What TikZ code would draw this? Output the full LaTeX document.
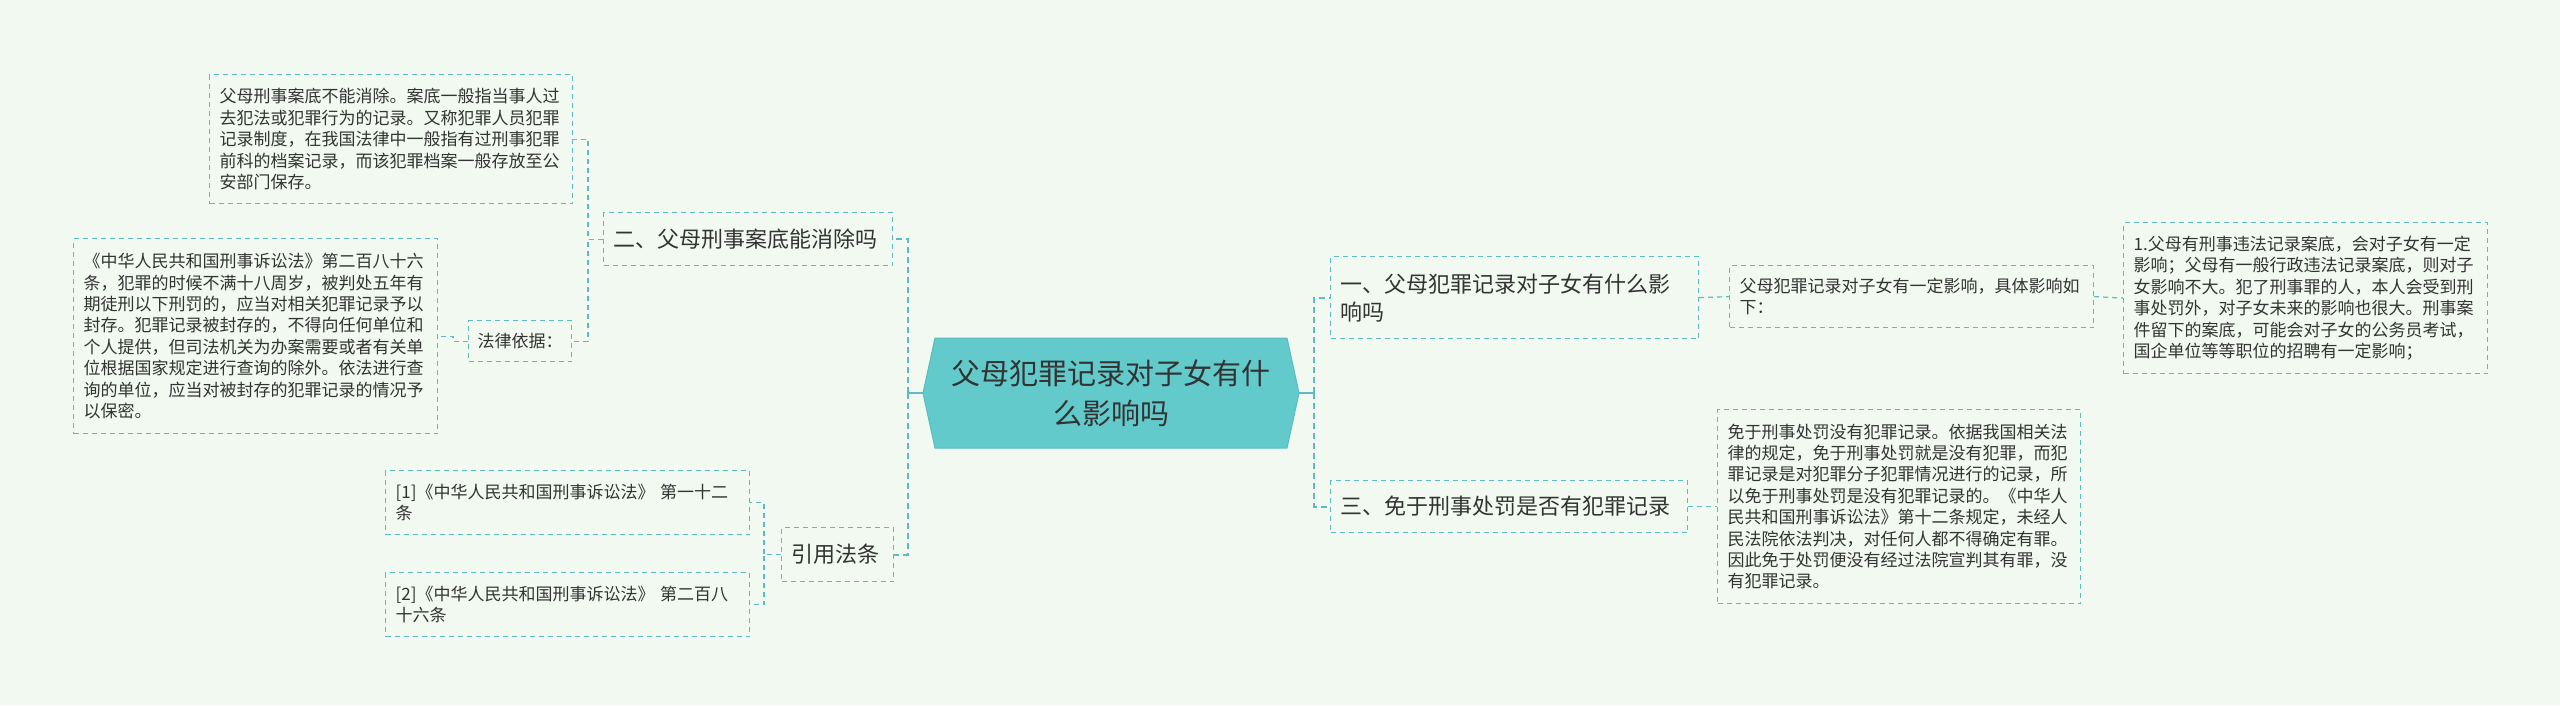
\documentclass[tikz,border=0pt]{standalone}
\usepackage{fontspec}
\setmainfont{Noto Sans CJK SC}
\definecolor{bgmint}{HTML}{F1F9F0}
\definecolor{lineteal}{HTML}{5FBBC2}
\definecolor{rootfill}{HTML}{63CACB}
\definecolor{rootline}{HTML}{58BDBF}
\definecolor{inkgray}{HTML}{333333}
\begin{document}
\begin{tikzpicture}[x=1pt, y=-1pt, line cap=butt,
  box/.style={draw=lineteal, line width=1.2pt, dash pattern=on 5pt off 4pt,
    text=inkgray, align=left, anchor=north west, inner xsep=10pt, inner ysep=0pt,
    font=\fontsize{17}{21.4}\selectfont},
  topic/.style={box, font=\fontsize{22}{28}\selectfont},
  link/.style={draw=lineteal, line width=1.2pt, dash pattern=on 5pt off 4pt},
  bus/.style={draw=lineteal, line width=2pt, dash pattern=on 6pt off 4pt},
  stub/.style={draw=lineteal, line width=2pt}]
  % Page and background.
  \fill[bgmint] (0,0) rectangle (2560,705);
  \useasboundingbox (0,0) rectangle (2560,705);
  \coordinate (C) at (1111,393);
  % Root hexagon.
  \filldraw[fill=rootfill, draw=rootline, line width=1pt]
    (923,393) -- (935,338) -- (1287,338) -- (1299,393) -- (1287,448) -- (935,448) -- cycle;
  \node[text=inkgray, align=center, minimum width=376, minimum height=110, inner sep=0pt,
    font=\fontsize{29}{40}\selectfont] (root) at (C) {父母犯罪记录对子女有什\\么影响吗};
  % Left branches.
  \node[topic, text width=269, minimum height=53] (b2) at (603,212) {二、父母刑事案底能消除吗};
  \node[box, text width=343, minimum height=129] (t1) at (209,74)
    {父母刑事案底不能消除。案底一般指当事人过\\去犯法或犯罪行为的记录。又称犯罪人员犯罪\\记录制度，在我国法律中一般指有过刑事犯罪\\前科的档案记录，而该犯罪档案一般存放至公\\安部门保存。};
  \node[box, inner xsep=9pt, text width=85, minimum height=41] (law) at (468,320) {法律依据：};
  \node[box, text width=344, minimum height=195] (t2) at (73,238)
    {《中华人民共和国刑事诉讼法》第二百八十六\\条，犯罪的时候不满十八周岁，被判处五年有\\期徒刑以下刑罚的，应当对相关犯罪记录予以\\封存。犯罪记录被封存的，不得向任何单位和\\个人提供，但司法机关为办案需要或者有关单\\位根据国家规定进行查询的除外。依法进行查\\询的单位，应当对被封存的犯罪记录的情况予\\以保密。};
  \node[topic, text width=92, minimum height=54] (cite) at (781,527) {引用法条};
  \node[box, text width=344, minimum height=64] (ref1) at (385,470)
    {[1]《中华人民共和国刑事诉讼法》 第一十二\\条};
  \node[box, text width=344, minimum height=64] (ref2) at (385,572)
    {[2]《中华人民共和国刑事诉讼法》 第二百八\\十六条};
  % Right branches.
  \node[topic, text width=348, minimum height=82] (b1) at (1330,256)
    {一、父母犯罪记录对子女有什么影\\响吗};
  \node[box, text width=344, minimum height=62] (m1) at (1729,265)
    {父母犯罪记录对子女有一定影响，具体影响如\\下：};
  \node[box, text width=344, minimum height=151] (r1) at (2123,222)
    {1.父母有刑事违法记录案底，会对子女有一定\\影响；父母有一般行政违法记录案底，则对子\\女影响不大。犯了刑事罪的人，本人会受到刑\\事处罚外，对子女未来的影响也很大。刑事案\\件留下的案底，可能会对子女的公务员考试，\\国企单位等等职位的招聘有一定影响；};
  \node[topic, text width=337, minimum height=52] (b3) at (1330,480)
    {三、免于刑事处罚是否有犯罪记录};
  \node[box, text width=343, minimum height=194] (r3) at (1717,409)
    {免于刑事处罚没有犯罪记录。依据我国相关法\\律的规定，免于刑事处罚就是没有犯罪，而犯\\罪记录是对犯罪分子犯罪情况进行的记录，所\\以免于刑事处罚是没有犯罪记录的。《中华人\\民共和国刑事诉讼法》第十二条规定，未经人\\民法院依法判决，对任何人都不得确定有罪。\\因此免于处罚便没有经过法院宣判其有罪，没\\有犯罪记录。};
  % Connectors from the root.
  \draw[stub] (root.west) -- ++(-15,0) coordinate (lbus);
  \draw[bus] (lbus) |- (b2.east);
  \draw[bus] (lbus) |- (cite.east);
  \draw[stub] (root.east) -- ++(15,0) coordinate (rbus);
  \draw[bus] (rbus) |- (b1.west);
  \draw[bus] (rbus) |- (b3.west);
  % Connectors to the leaves.
  \draw[link] (b2.west) -- ++(-15,0) |- (t1.east);
  \draw[link] (b2.west) -- ++(-15,0) |- (law.east);
  \draw[link] (law.west) -- ++(-15,0) |- (t2.east);
  \draw[link] (cite.west) -- ++(-17,0) |- (ref1.east);
  \draw[link] (cite.west) -- ++(-17,0) |- (ref2.east);
  \draw[link] (b1.east) -- (m1.west);
  \draw[link] (m1.east) -- (r1.west);
  \draw[link] (b3.east) -- (r3.west);
\end{tikzpicture}
\end{document}
